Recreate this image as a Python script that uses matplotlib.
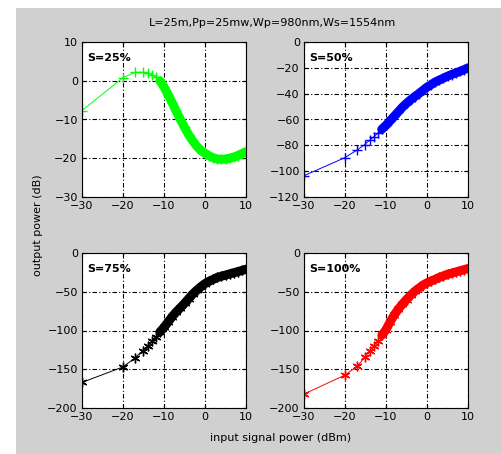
import numpy as np
import matplotlib
matplotlib.use('Agg')
import matplotlib.pyplot as plt
from matplotlib.patches import Rectangle

# входная мощность сигнала (dBm), общая для всех кривых
x_in = [-30, -20, -17, -15.2, -14, -13, -12, -11, -10, -9, -8, -7, -6, -5, -4,
        -3, -2, -1, 0, 1, 2, 3, 4, 5, 6, 7, 8, 9, 10]

# выходная мощность (dB) для разных S
y_s25 = [-7.7, 0.8, 2.2, 2.2, 2.0, 1.6, 1.0, 0.0, -1.6, -3.6, -5.7, -7.9, -10.0,
         -12.0, -13.9, -15.5, -16.9, -18.0, -18.7, -19.4, -19.9, -20.2, -20.3,
         -20.2, -20.0, -19.7, -19.3, -18.8, -18.3]
y_s50 = [-103.5, -89.5, -83.5, -79.5, -76, -73.5, -70.5, -67.5, -64.5, -61, -57.5,
         -54, -50.5, -47.5, -44.8, -42.3, -40, -37.5, -35, -33, -31, -29.5, -28,
         -26.5, -25.2, -24, -22.8, -21.5, -20]
y_s75 = [-167, -147, -135, -126, -120, -114, -108, -102, -96, -89, -82, -76, -70.5,
         -65, -59, -53, -48, -43.5, -39.5, -36.5, -34, -31.5, -30, -28.5, -27,
         -25.5, -24, -22.5, -21]
y_s100 = [-182, -157.5, -146, -134.5, -126, -120, -113, -106, -99, -89, -80, -72.5,
          -66, -60, -54.5, -49.5, -45.5, -41.5, -38.5, -36, -34, -31.5, -29.5,
          -27.5, -26, -24.5, -23, -21.5, -20]

labels = ['S=25%', 'S=50%', 'S=75%', 'S=100%']
series = [y_s25, y_s50, y_s75, y_s100]
colors = ['#00ff00', '#0000ff', '#000000', '#ff0000']
markers = ['+', '+', (6, 2, 0), (6, 2, 0)]
yticks = [[-30, -20, -10, 0, 10],
          [-120, -100, -80, -60, -40, -20, 0],
          [-200, -150, -100, -50, 0],
          [-200, -150, -100, -50, 0]]
xticks = [-30, -20, -10, 0, 10]

W, H = 502, 454
fig = plt.figure(figsize=(W / 100, H / 100), dpi=100)
fig.patch.set_facecolor('white')
fig.patches.append(Rectangle((16 / W, 0), 1 - 16 / W, 1 - 8 / H,
                             transform=fig.transFigure, facecolor='#d0d0d0',
                             edgecolor='none', zorder=-10))

positions = [[82, 42], [304, 42], [82, 253], [304, 253]]
aw, ah = 164, 155

x_arr = np.array(x_in)
dense = x_arr >= -11

for i, (px, py) in enumerate(positions):
    ax = fig.add_axes([px / W, 1 - (py + ah) / H, aw / W, ah / H])
    ax.set_facecolor('white')
    y_arr = np.array(series[i])
    ax.plot(x_arr, y_arr, color=colors[i], lw=0.7, marker=markers[i],
            ms=7, mew=1.0)
    # плотная часть кривой (много точек, сливаются в полосу)
    ax.plot(x_arr[dense], y_arr[dense], color=colors[i], lw=6.5,
            solid_capstyle='round')
    ax.set_xlim(-30, 10)
    ax.set_ylim(yticks[i][0], yticks[i][-1])
    ax.set_xticks(xticks)
    ax.set_yticks(yticks[i])
    ax.grid(True, color='black', linestyle=(0, (4, 2, 1, 2)), lw=0.8)
    ax.tick_params(direction='in', length=3, top=True, right=True,
                   labelsize=8, pad=3)
    for s in ax.spines.values():
        s.set_linewidth(0.8)
    ax.text(0.03, 0.93, labels[i], transform=ax.transAxes, fontsize=8,
            fontweight='bold', va='top', ha='left')

fig.text(0.543, 1 - 23 / H, 'L=25m,Pp=25mw,Wp=980nm,Ws=1554nm',
         ha='center', va='center', fontsize=8)
fig.text(0.558, 1 - 438 / H, 'input signal power (dBm)',
         ha='center', va='center', fontsize=8)
fig.text(38 / W, 1 - 225 / H, 'output power (dB)', rotation=90,
         ha='center', va='center', fontsize=8)

fig.savefig('out.png', dpi=100)
